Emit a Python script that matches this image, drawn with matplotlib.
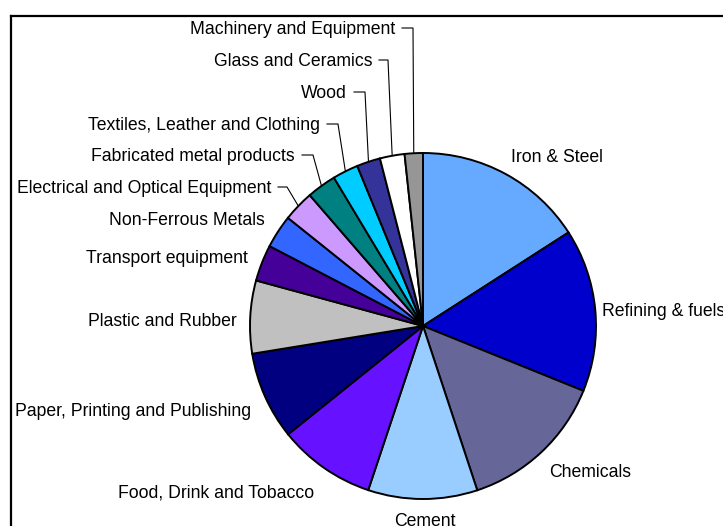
import matplotlib
matplotlib.use("Agg")
import matplotlib.pyplot as plt
import numpy as np

plt.rcParams['font.family'] = ['Liberation Sans', 'DejaVu Sans']

categories = ["Iron & Steel", "Refining & fuels", "Chemicals", "Cement",
              "Food, Drink and Tobacco", "Paper, Printing and Publishing",
              "Plastic and Rubber", "Transport equipment", "Non-Ferrous Metals",
              "Electrical and Optical Equipment", "Fabricated metal products",
              "Textiles, Leather and Clothing", "Wood", "Glass and Ceramics",
              "Machinery and Equipment"]
values = [15.9, 15.2, 13.8, 10.2, 9.1, 8.2, 6.8, 3.4, 3.1, 2.9, 2.75, 2.4, 2.2, 2.3, 1.7]
colors = ["#66AAFF", "#0000CC", "#666699", "#99CCFF", "#6611FF", "#000080",
          "#C0C0C0", "#440099", "#3366FF", "#CC99FF", "#008080", "#00CCFF",
          "#333399", "#FFFFFF", "#969696"]

W, H = 723, 526
fig = plt.figure(figsize=(W / 100, H / 100), dpi=100)
ax = fig.add_axes([0, 0, 1, 1])

cx, cy, R = 423, H - 326, 173
wedges, _ = ax.pie(values, colors=colors, startangle=90, counterclock=False,
                   center=(cx, cy), radius=R, frame=True,
                   wedgeprops=dict(edgecolor='black', linewidth=1.4))
ax.set_xlim(0, W)
ax.set_ylim(0, H)
ax.axis('off')

FS = 12.7
# label layout: (anchor x px, baseline y px, ha)
plain = {
    "Iron & Steel": (511, 162, 'left'),
    "Refining & fuels": (602, 316, 'left'),
    "Chemicals": (549, 477, 'left'),
    "Cement": (425, 526, 'center'),
    "Food, Drink and Tobacco": (314, 497, 'right'),
    "Paper, Printing and Publishing": (251, 416, 'right'),
    "Plastic and Rubber": (237, 326, 'right'),
    "Transport equipment": (248, 263, 'right'),
    "Non-Ferrous Metals": (265, 225, 'right'),
}
# leader labels: (knee x px, y px, horizontal start x)
leader = {
    "Electrical and Optical Equipment": (287, 187, 278),
    "Fabricated metal products": (313, 155, 302),
    "Textiles, Leather and Clothing": (338, 124, 327),
    "Wood": (365, 92, 354),
    "Glass and Ceramics": (388, 60, 379),
    "Machinery and Equipment": (413, 28, 402),
}

for w, name in zip(wedges, categories):
    if name in plain:
        x, yb, ha = plain[name]
        ax.text(x, H - yb, name, ha=ha, va='baseline', fontsize=FS, color='black')
    else:
        kx, ky, hx = leader[name]
        mid = np.deg2rad((w.theta1 + w.theta2) / 2)
        px, py = cx + R * np.cos(mid), cy + R * np.sin(mid)
        ax.plot([hx, kx, px], [H - ky, H - ky, py], color='black', lw=0.8)
        ax.text(hx - 7, H - ky - 6, name, ha='right', va='baseline', fontsize=FS, color='black')

# frame lines (top and left)
ax.plot([11, W], [H - 15.5, H - 15.5], color='black', lw=1.6, clip_on=False)
ax.plot([11, 11], [H - 15.5, 0], color='black', lw=1.6, clip_on=False)

fig.savefig("out.png", dpi=100)
